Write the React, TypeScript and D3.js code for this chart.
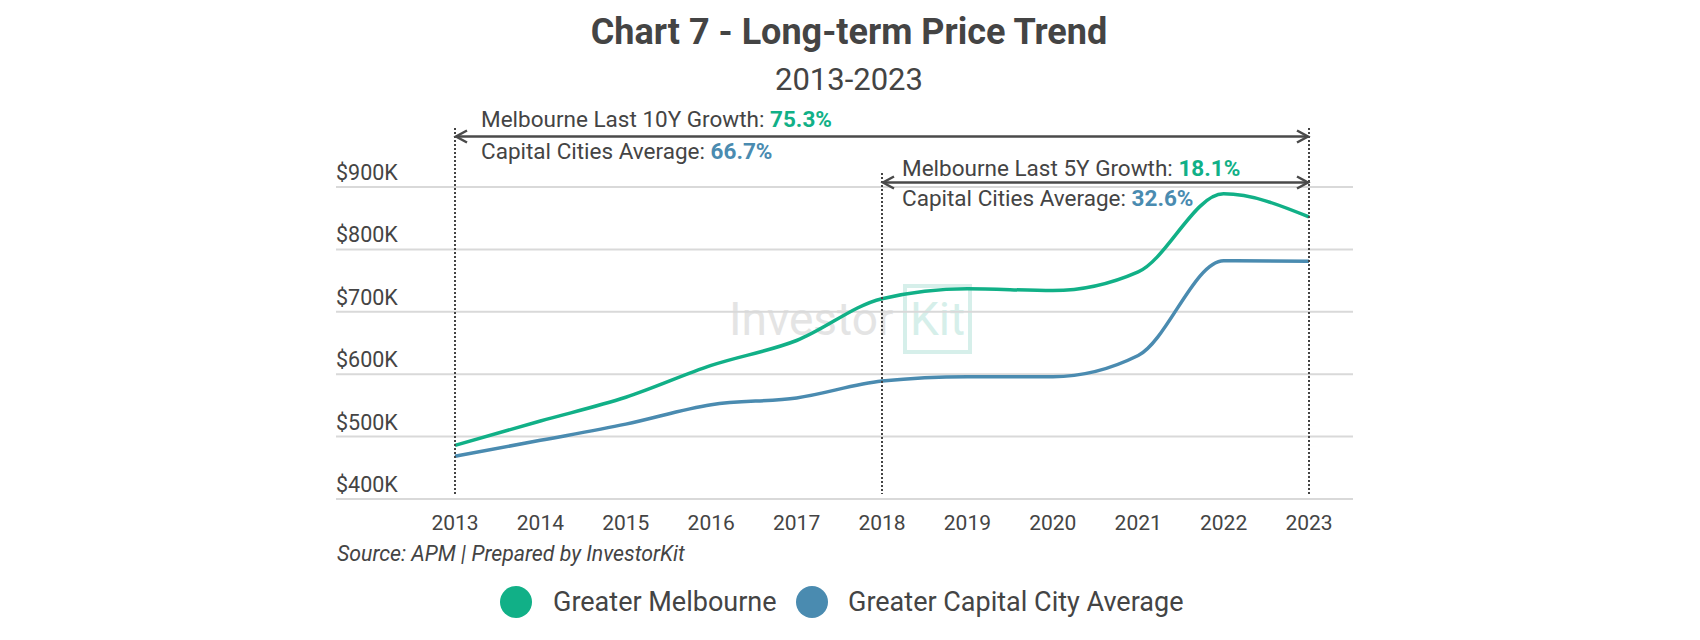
import * as d3 from "d3"

const years = [2013, 2014, 2015, 2016, 2017, 2018, 2019, 2020, 2021, 2022, 2023]
const melbourne = [486, 525, 563, 614, 654, 721, 737, 734, 764, 889, 852]
const capitalAvg = [468.5, 494, 520, 551, 562, 589, 596, 596, 630, 782, 781]
const yTicks = [400, 500, 600, 700, 800, 900]
const seriesNames = ["Greater Melbourne", "Greater Capital City Average"]

const GREEN = "#11b087"
const BLUE = "#4a8bb0"
const TEXT = "#444444"
const FONT = "Roboto, 'Noto Sans', sans-serif"

export default function App() {
    const x = d3.scaleLinear().domain([2013, 2023]).range([455, 1309])
    const y = d3.scaleLinear().domain([400, 900]).range([499, 187])

    const line = d3.line<number>()
        .x((_, i) => x(years[i]))
        .y((d) => y(d))
        .curve(d3.curveMonotoneX)

    const gridX0 = 336
    const gridX1 = 1353

    // arrow with open chevrons at both ends
    const arrow = (x0: number, x1: number, yy: number) => (
        <g stroke="#4a4a4a" strokeWidth={2.5} fill="none">
            <line x1={x0 + 1} x2={x1 - 1} y1={yy} y2={yy} />
            <polyline points={`${x0 + 12},${yy - 6} ${x0 + 1},${yy} ${x0 + 12},${yy + 6}`} />
            <polyline points={`${x1 - 12},${yy - 6} ${x1 - 1},${yy} ${x1 - 12},${yy + 6}`} />
        </g>
    )

    const dotted = (yr: number, top: number) => (
        <line x1={x(yr)} x2={x(yr)} y1={top} y2={494}
            stroke="#444" strokeWidth={2} strokeDasharray="2 2" />
    )

    return (
        <svg width={1700} height={640} style={{ position: "absolute", left: 0, top: 0 }}
            fontFamily={FONT}>
            <rect width={1700} height={640} fill="#fff" />

            <text x={849} y={44} textAnchor="middle" fontSize={36} fontWeight={700} fill={TEXT}>
                Chart 7 - Long-term Price Trend
            </text>
            <text x={849} y={90} textAnchor="middle" fontSize={31} fill={TEXT}>
                2013-2023
            </text>

            {/* watermark */}
            <g>
                <text x={729} y={335} fontSize={46} fill="#e4e4e4">Investor</text>
                <rect x={905} y={286} width={65} height={66} fill="none" stroke="#d6efea" strokeWidth={4} />
                <text x={910} y={335} fontSize={46} fill="#d6efea">Kit</text>
            </g>

            {yTicks.map((t) => (
                <g key={t}>
                    <line x1={gridX0} x2={gridX1} y1={y(t)} y2={y(t)} stroke="#d9d9d9" strokeWidth={2} />
                    <text x={gridX0} y={y(t) - 7} fontSize={21.5} fill={TEXT}>
                        ${t}K
                    </text>
                </g>
            ))}

            {years.map((yr) => (
                <text key={yr} x={x(yr)} y={530} textAnchor="middle" fontSize={21} fill={TEXT}>
                    {yr}
                </text>
            ))}

            <path d={line(capitalAvg) ?? ""} fill="none" stroke={BLUE} strokeWidth={3.5} />
            <path d={line(melbourne) ?? ""} fill="none" stroke={GREEN} strokeWidth={3.5} />

            {dotted(2013, 128)}
            {dotted(2023, 128)}
            {dotted(2018, 173)}

            {arrow(x(2013), x(2023), 136.5)}
            {arrow(x(2018), x(2023), 182.5)}

            <text x={481} y={127} fontSize={22.5} fill={TEXT}>
                Melbourne Last 10Y Growth: <tspan fill={GREEN} fontWeight={700}>75.3%</tspan>
            </text>
            <text x={481} y={159} fontSize={22.5} fill={TEXT}>
                Capital Cities Average: <tspan fill={BLUE} fontWeight={700}>66.7%</tspan>
            </text>
            <text x={902} y={176} fontSize={22.5} fill={TEXT}>
                Melbourne Last 5Y Growth: <tspan fill={GREEN} fontWeight={700}>18.1%</tspan>
            </text>
            <text x={902} y={206} fontSize={22.5} fill={TEXT}>
                Capital Cities Average: <tspan fill={BLUE} fontWeight={700}>32.6%</tspan>
            </text>

            <text x={337} y={561} fontSize={21.3} fontStyle="italic" fill={TEXT}>
                Source: APM | Prepared by InvestorKit
            </text>

            <circle cx={516} cy={602} r={16} fill={GREEN} />
            <text x={553} y={611} fontSize={27} fill={TEXT}>{seriesNames[0]}</text>
            <circle cx={812} cy={602} r={16} fill={BLUE} />
            <text x={848} y={611} fontSize={27} fill={TEXT}>{seriesNames[1]}</text>
        </svg>
    )
}
